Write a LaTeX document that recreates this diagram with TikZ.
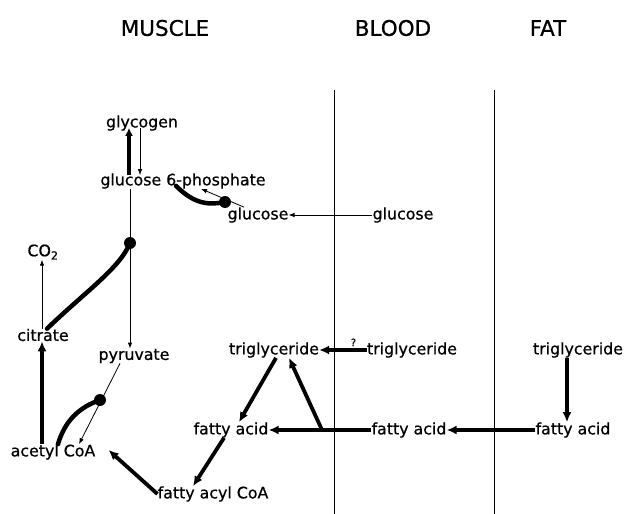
\documentclass[tikz,border=0pt]{standalone}
\usepackage{fontspec}
\setmainfont{DejaVu Sans}[BoldFont={DejaVu Sans},BoldFeatures={FakeBold=0.7}]
\usetikzlibrary{arrows.meta}
\begin{document}
\begin{tikzpicture}[x=1pt,y=-1pt,
  lbl/.style={inner sep=0pt,font=\fontsize{15.8}{18}\bfseries},
  hdr/.style={inner sep=0pt,font=\fontsize{21.5}{24}\bfseries},
  thk/.style={line width=3.8pt,-{Latex[length=10pt,width=9pt]}},
  thkline/.style={line width=3.8pt},
  thn/.style={line width=0.8pt,-{Latex[length=6pt,width=4.5pt]}},
  thnline/.style={line width=0.8pt},
  curve/.style={line width=4.5pt,line cap=round},
  dot/.style={circle,fill=black,inner sep=0pt,minimum size=12pt},
  sep/.style={line width=0.8pt}]
\useasboundingbox (0,0) rectangle (625,514);
% headers
\node[hdr] (hm) at (165,28) {MUSCLE};
\node[hdr] (hb) at (393,28) {BLOOD};
\node[hdr] (hf) at (548,28) {FAT};
% compartment lines
\coordinate (l1t) at (334,90); \coordinate (l1b) at (334,514);
\coordinate (l2t) at (494,90); \coordinate (l2b) at (494,514);
\draw[sep] (l1t) -- (l1b);
\draw[sep] (l2t) -- (l2b);
% nodes
\node[lbl] (glycogen) at (142,123) {glycogen};
\node[lbl] (g6p) at (183,181) {glucose 6-phosphate};
\node[lbl] (glcm) at (258,215) {glucose};
\node[lbl] (glcb) at (403,215) {glucose};
\node[lbl] (co2) at (43,252) {CO\textsubscript{2}};
\node[lbl] (citrate) at (43,335) {citrate};
\node[lbl] (pyr) at (134,356) {pyruvate};
\node[lbl] (acoa) at (53,452) {acetyl CoA};
\node[lbl] (facoa) at (213,494) {fatty acyl CoA};
\node[lbl] (tgm) at (274,350) {triglyceride};
\node[lbl] (fam) at (231,430) {fatty acid};
\node[lbl] (tgb) at (412,350) {triglyceride};
\node[lbl] (fab) at (409,430) {fatty acid};
\node[lbl] (tgf) at (578,350) {triglyceride};
\node[lbl] (faf) at (573,430) {fatty acid};
% dots
\node[dot] (d1) at (225,202) {};
\node[dot] (d2) at (130,243) {};
\node[dot] (d3) at (100,400) {};
\coordinate (jn) at (322,430);
% glycogen <-> g6p
\draw[line width=3.2pt,-{Latex[length=8pt,width=8pt]}] ([xshift=-54pt,yshift=-2pt]g6p.north) -- ([xshift=-13pt,yshift=3pt]glycogen.south);
\draw[thn] ([xshift=-2pt,yshift=3pt]glycogen.south) -- ([xshift=-43pt,yshift=-2pt]g6p.north);
% g6p -> pyruvate via dot
\draw[thnline] ([xshift=-53pt]g6p.south) -- (d2);
\draw[thn] (d2) -- ([xshift=-4pt]pyr.north);
\draw[curve] ([xshift=4pt]citrate.north) .. controls (85,292) and (120,268) .. (d2.center);
% glucose uptake
\draw[thn] (glcb.west) -- (glcm.east);
\draw[curve] ([xshift=-7pt,yshift=3pt]g6p.south) .. controls (195,205) and (210,205) .. (d1.center);
\draw[thn] ([xshift=-14pt]glcm.north) -- ([xshift=18pt]g6p.south);
% TCA
\draw[thn] ([xshift=-1pt]citrate.north) -- ([xshift=-1pt]co2.south);
\draw[thk] ([xshift=-11pt]acoa.north) -- ([xshift=-1pt]citrate.south);
\draw[thn] ([xshift=-14pt]pyr.south) -- ([xshift=26pt]acoa.north);
\draw[curve] ([xshift=5pt]acoa.north) .. controls (65,420) and (80,407) .. (d3.center);
% fat oxidation
\draw[thk] (facoa.west) -- ([xshift=13pt,yshift=2pt]acoa.east);
\draw[thk] ([xshift=-7pt]fam.south) -- ([xshift=-20pt]facoa.north);
\draw[thk] ([xshift=2pt]tgm.south) -- ([xshift=8pt]fam.north);
% triglyceride / fatty acid cycle in muscle
\draw[thkline] (fab.west) -- (jn);
\draw[thk] (jn) -- (fam.east);
\draw[thk] (jn) -- ([xshift=15pt]tgm.south);
\draw[thk] (tgb.west) -- node[pos=0.28,above=2pt,inner sep=0pt,font=\fontsize{10}{12}\bfseries] (q) {?} (tgm.east);
% fat
\draw[thk] (faf.west) -- (fab.east);
\draw[thk] ([xshift=-11pt]tgf.south) -- ([xshift=-6pt]faf.north);
\end{tikzpicture}
\end{document}
